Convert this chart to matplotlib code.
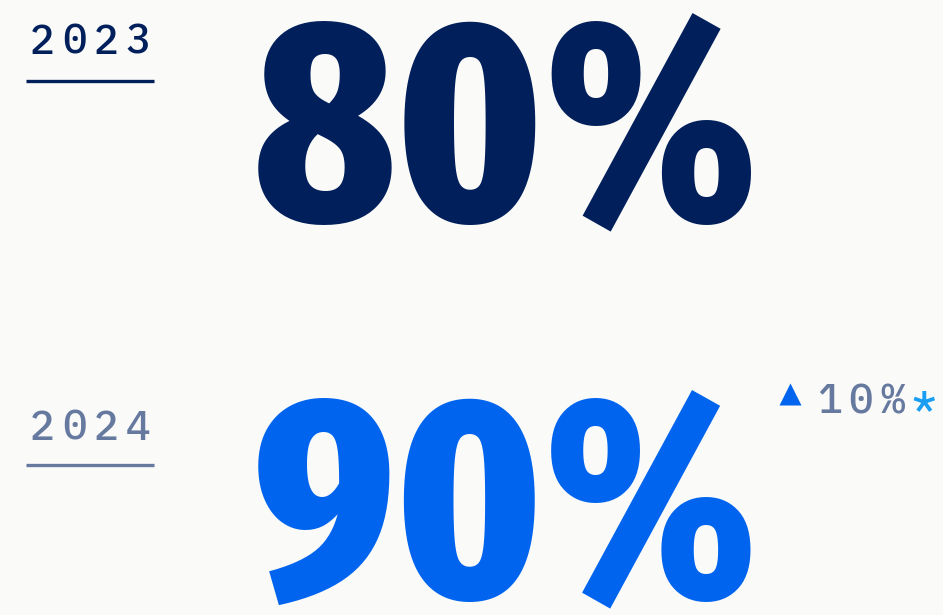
import matplotlib
matplotlib.use("Agg")
import matplotlib.pyplot as plt
from matplotlib.textpath import TextPath
from matplotlib.font_manager import FontProperties

# values shown
years = ["2023", "2024"]
shares = ["80%", "90%"]
change = "10%"
change_note = "*"

navy = "#011f5b"
blue = "#0064ef"
slate = "#66799e"
sky = "#1a9ef2"
bg = "#fafaf9"

W, H = 943, 615
fig = plt.figure(figsize=(W / 100, H / 100), dpi=100, facecolor=bg)
ax = fig.add_axes([0, 0, 1, 1])
ax.set_xlim(0, W)
ax.set_ylim(H, 0)
ax.axis("off")
ax.set_facecolor(bg)

mono = dict(family=["IBM Plex Mono", "DejaVu Sans Mono"], fontsize=29.5, fontweight=500)
pitch = 31.7


def spaced(x0, y, s, **kw):
    # monospace with extra tracking, one glyph per slot
    for i, ch in enumerate(s):
        ax.text(x0 + i * pitch, y, ch, ha="center", va="baseline", **kw)


# big figures: digits about 204 px tall, whole string centred on x=505
big = FontProperties(family=["Fira Sans Extra Condensed", "DejaVu Sans"], weight=800)
dig = TextPath((0, 0), shares[0][:2], prop=big, size=100).get_extents()
full = TextPath((0, 0), shares[0], prop=big, size=100).get_extents()
k = 204 / dig.height
big_pt = 100 * k * 72 / 100
big_x = 505 - (full.x0 + full.width / 2) * k

year_clr = [navy, slate]
num_clr = [navy, blue]
base_year = [54, 439.5]
num_bottom = [226, 603]
rule_y = [80.5, 464.5]

for i in range(2):
    spaced(42.5, base_year[i], years[i], color=year_clr[i], **mono)
    ax.plot([26, 154], [rule_y[i], rule_y[i]], color=year_clr[i], lw=2.4, solid_capstyle="butt")
    ax.text(big_x, num_bottom[i] + dig.y0 * k, shares[i], ha="left", va="baseline",
            color=num_clr[i], fontproperties=big, fontsize=big_pt)

# change marker
ax.plot([790], [393.5], marker="^", ms=15.5, color=blue, mec="none")
spaced(829, 413, change, color=slate, **mono)
ax.text(829 + 3 * pitch, 413, change_note, ha="center", va="baseline", color=sky, **mono)

fig.savefig("out.png", dpi=100, facecolor=bg)
